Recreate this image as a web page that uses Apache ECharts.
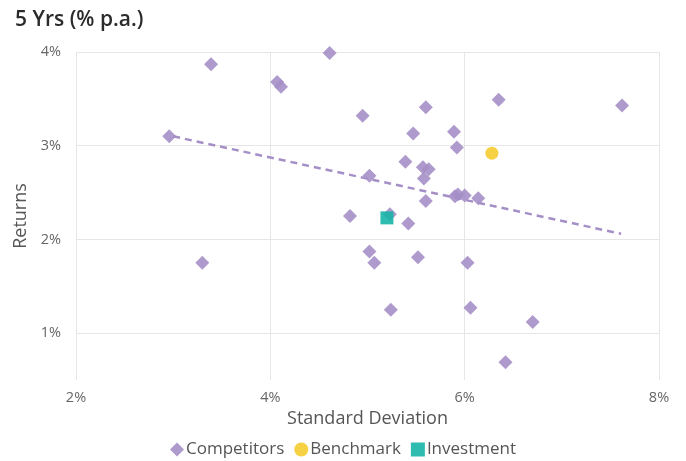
<!DOCTYPE html>
<html><head><meta charset="utf-8">
<script src="https://cdn.jsdelivr.net/npm/echarts@6/dist/echarts.min.js"></script>
<style>html,body{margin:0;padding:0;background:#fff}#c{width:686px;height:461px}</style>
</head><body><div id="c"></div>
<script>
const competitors = [
  [2.96,3.10],[3.39,3.87],[3.30,1.75],[4.07,3.68],[4.11,3.63],[4.61,3.99],
  [4.95,3.32],[4.82,2.25],[5.02,2.68],[5.02,1.87],[5.07,1.75],[5.23,2.27],
  [5.24,1.25],[5.39,2.83],[5.47,3.13],[5.42,2.17],[5.52,1.81],[5.60,3.41],
  [5.57,2.77],[5.63,2.75],[5.58,2.65],[5.60,2.41],[5.89,3.15],[5.92,2.98],
  [5.90,2.46],[5.93,2.48],[6.00,2.47],[6.14,2.44],[6.35,3.49],[7.62,3.43],
  [6.03,1.75],[6.06,1.27],[6.70,1.12],[6.42,0.69]
];
const benchmark = [[6.28,2.92]];
const investment = [[5.20,2.23]];
const trend = [[3.00,3.10],[7.61,2.06]];
const xTicks = [2,4,6,8];
const yTicks = [1,2,3,4];

const purple = '#a58fc7', yellow = '#f3c614', teal = '#17b5a7';
const font = '"Open Sans", "Noto Sans", sans-serif';
const chart = echarts.init(document.getElementById('c'));
chart.setOption({
  animation: false,
  textStyle: {fontFamily: font},
  title: {text: '5 Yrs (% p.a.)', left: 10, top: 5,
    textStyle: {fontSize: 21, fontWeight: 600, color: '#2b2b2b', fontFamily: font}},
  grid: {left: 76, right: 27, top: 52, bottom: 81},
  legend: {bottom: -2, left: 'center', itemWidth: 14, itemHeight: 14, itemGap: 10,
    textStyle: {fontSize: 17, color: '#555', padding: [0,0,0,-3]},
    data: [{name:'Competitors', icon:'diamond'},{name:'Benchmark', icon:'circle'},{name:'Investment', icon:'rect'}]},
  xAxis: {type: 'value', min: xTicks[0], max: xTicks[xTicks.length-1], interval: 2,
    name: 'Standard Deviation', nameLocation: 'middle', nameGap: 28,
    nameTextStyle: {fontSize: 18, color: '#555'},
    axisLine: {show: false}, axisTick: {show: false},
    axisLabel: {formatter: v => v + '%', color: '#666', fontSize: 14.5, margin: 10},
    splitLine: {show: true, lineStyle: {color: '#e6e6e6'}}},
  yAxis: {type: 'value', min: 0.5, max: yTicks[yTicks.length-1], splitNumber: 4,
    name: 'Returns', nameLocation: 'middle', nameGap: 42,
    nameTextStyle: {fontSize: 18, color: '#555'},
    axisLine: {show: false}, axisTick: {show: false},
    axisLabel: {formatter: v => v + '%', color: '#666', fontSize: 14.5, margin: 15, showMinLabel: false},
    splitLine: {show: true, lineStyle: {color: ['rgba(0,0,0,0)','#e6e6e6','#e6e6e6','#e6e6e6','#e6e6e6']}}},
  series: [
    {name: 'Trend', type: 'line', data: trend, symbol: 'none', silent: true,
      lineStyle: {color: purple, width: 2.5, type: [7,5]}, z: 1},
    {name: 'Competitors', type: 'scatter', symbol: 'diamond', symbolSize: 14,
      itemStyle: {color: purple, opacity: 0.9}, data: competitors, z: 2, clip: false},
    {name: 'Benchmark', type: 'scatter', symbol: 'circle', symbolSize: 13,
      itemStyle: {color: yellow}, data: benchmark, z: 3},
    {name: 'Investment', type: 'scatter', symbol: 'rect', symbolSize: 13,
      itemStyle: {color: teal, opacity: 0.9}, data: investment, z: 3}
  ]
});
</script></body></html>
